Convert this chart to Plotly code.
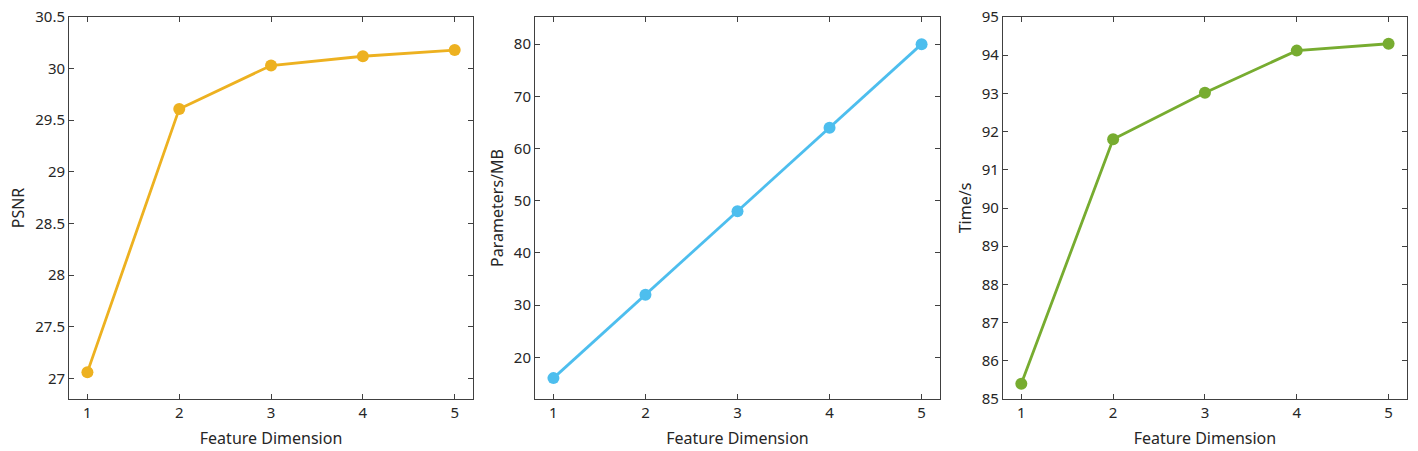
import plotly.graph_objects as go

# Values
feature_dim = [1, 2, 3, 4, 5]
psnr = [27.06, 29.61, 30.03, 30.12, 30.18]
params_mb = [16, 32, 48, 64, 80]
time_s = [85.4, 91.8, 93.02, 94.12, 94.3]

psnr_ticks = [27, 27.5, 28, 28.5, 29, 29.5, 30, 30.5]
psnr_labels = ["27", "27.5", "28", "28.5", "29", "29.5", "30", "30.5"]
params_ticks = [20, 30, 40, 50, 60, 70, 80]
time_ticks = [85, 86, 87, 88, 89, 90, 91, 92, 93, 94, 95]

ORANGE = "#EDB120"
BLUE = "#4DBEEE"
GREEN = "#77AC30"
AXIS = "#404040"
FONT = "Noto Sans, Open Sans, sans-serif"

panels = [
    (psnr, ORANGE, "PSNR", [26.8, 30.5], psnr_ticks, psnr_labels, (0.0487, 0.3336)),
    (params_mb, BLUE, "Parameters/MB", [12, 85.2], params_ticks, None, (0.3773, 0.6629)),
    (time_s, GREEN, "Time/s", [85, 95], time_ticks, None, (0.7073, 0.9922)),
]

fig = go.Figure()
for i, (vals, color, ytitle, yrange, yticks, ylabels, xdom) in enumerate(panels, start=1):
    suffix = "" if i == 1 else str(i)
    fig.add_trace(go.Scatter(
        x=feature_dim, y=vals, mode="lines+markers",
        line={"color": color, "width": 2.8},
        marker={"color": color, "size": 12},
        xaxis="x" + suffix, yaxis="y" + suffix, showlegend=False,
    ))
    common = dict(
        showline=True, linecolor=AXIS, linewidth=1, mirror="ticks",
        ticks="inside", ticklen=5, tickcolor=AXIS, showgrid=False, zeroline=False,
        automargin=False, ticklabeloverflow="allow",
        tickfont={"family": FONT, "size": 15, "color": "#262626"},
    )
    fig.update_layout({
        "xaxis" + suffix: dict(
            common, domain=list(xdom), range=[0.8, 5.2], tickvals=feature_dim,
            anchor="y" + suffix,
            title={"text": "Feature Dimension", "font": {"family": FONT, "size": 16, "color": "#262626"}, "standoff": 11},
        ),
        "yaxis" + suffix: dict(
            common, domain=[0.1153, 0.9623], range=yrange, tickvals=yticks,
            ticktext=ylabels, anchor="x" + suffix,
            title={"text": ytitle, "font": {"family": FONT, "size": 16, "color": "#262626"}, "standoff": 6},
        ),
    })

fig.update_layout(
    width=1418, height=451,
    margin={"l": 0, "r": 0, "t": 0, "b": 0},
    paper_bgcolor="white", plot_bgcolor="white",
    font={"family": FONT},
)

# drop the default page margin so the figure sits at the window's corner
fig.write_html(
    "out.html",
    config={"displayModeBar": False},
    post_script="document.body.style.margin = '0';",
)
